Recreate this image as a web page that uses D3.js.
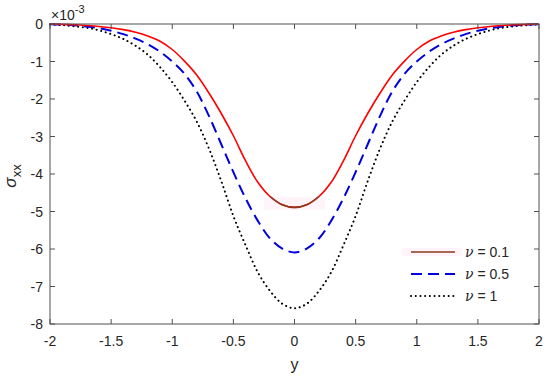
<!DOCTYPE html>
<html>
<head>
<meta charset="utf-8">
<title>sigma_xx</title>
<script src="https://cdn.jsdelivr.net/npm/d3@7"></script>
<style>
  body { margin: 0; background: #fff; }
  svg { font-family: "Liberation Sans", Arial, sans-serif; }
</style>
</head>
<body>
<div id="chart"></div>
<script>
// y positions, step 0.1 from -2 to 2
var ys = [-2, -1.9, -1.8, -1.7, -1.6, -1.5, -1.4, -1.3, -1.2, -1.1, -1, -0.9, -0.8, -0.7, -0.6, -0.5, -0.4, -0.3, -0.2, -0.1,
  0, 0.1, 0.2, 0.3, 0.4, 0.5, 0.6, 0.7, 0.8, 0.9, 1, 1.1, 1.2, 1.3, 1.4, 1.5, 1.6, 1.7, 1.8, 1.9, 2];

// sigma_xx in units of 1e-3
var nu01 = [-0.005, -0.01, -0.02, -0.04, -0.065, -0.1, -0.15, -0.22, -0.32, -0.46, -0.68, -0.99, -1.36, -1.84, -2.38, -2.98, -3.65, -4.22, -4.6, -4.82,
  -4.89, -4.82, -4.6, -4.22, -3.65, -2.98, -2.38, -1.84, -1.36, -0.99, -0.68, -0.46, -0.32, -0.22, -0.15, -0.1, -0.065, -0.04, -0.02, -0.01, -0.005];
var nu05 = [-0.005, -0.015, -0.035, -0.065, -0.11, -0.18, -0.27, -0.39, -0.54, -0.74, -1.0, -1.33, -1.8, -2.45, -3.2, -3.95, -4.65, -5.25, -5.72, -5.99,
  -6.09, -5.99, -5.72, -5.25, -4.65, -3.95, -3.2, -2.45, -1.8, -1.33, -1.0, -0.74, -0.54, -0.39, -0.27, -0.18, -0.11, -0.065, -0.035, -0.015, -0.005];
var nu1 = [-0.01, -0.03, -0.06, -0.1, -0.17, -0.27, -0.4, -0.58, -0.82, -1.15, -1.55, -2.04, -2.6, -3.32, -4.18, -5.12, -5.9, -6.62, -7.12, -7.46,
  -7.58, -7.46, -7.12, -6.62, -5.9, -5.12, -4.18, -3.32, -2.6, -2.04, -1.55, -1.15, -0.82, -0.58, -0.4, -0.27, -0.17, -0.1, -0.06, -0.03, -0.01];

var xTicks = [-2, -1.5, -1, -0.5, 0, 0.5, 1, 1.5, 2];
var yTicks = [0, -1, -2, -3, -4, -5, -6, -7, -8];
var legendLabels = ["0.1", "0.5", "1"];

var W = 550, H = 379;
var margin = {left: 50, right: 11, top: 24, bottom: 55};
var iw = W - margin.left - margin.right, ih = H - margin.top - margin.bottom;
var axisColor = "#505050", textColor = "#262626";

var svg = d3.select("#chart").append("svg").attr("width", W).attr("height", H);
var g = svg.append("g").attr("transform", "translate(" + margin.left + "," + margin.top + ")");

var x = d3.scaleLinear().domain([-2, 2]).range([0, iw]);
var y = d3.scaleLinear().domain([-8, 0]).range([ih, 0]);

function pts(vals) { return ys.map(function (d, i) { return [d, vals[i]]; }); }
var line = d3.line().x(function (d) { return x(d[0]); }).y(function (d) { return y(d[1]); }).curve(d3.curveCatmullRom);

// faint pink halo seen around the minimum of the red curve
g.append("rect").attr("x", x(-0.25)).attr("y", y(-4.62)).attr("width", x(0.25) - x(-0.25)).attr("height", y(-4.95) - y(-4.62))
  .attr("fill", "#fef4fa");

var series = [
  {vals: nu1, color: "#000", width: 2, dash: "0.1,4.6", cap: "round"},
  {vals: nu05, color: "#0000e0", width: 2, dash: "11,6", cap: "butt"},
  {vals: nu01, color: "#ff0000", width: 1.6, dash: null, cap: "butt"}
];
series.forEach(function (s) {
  g.append("path").datum(pts(s.vals)).attr("d", line)
    .attr("fill", "none").attr("stroke", s.color).attr("stroke-width", s.width)
    .attr("stroke-dasharray", s.dash).attr("stroke-linecap", s.cap);
});
// brownish segment near the red minimum
g.append("path").datum(pts(nu01).filter(function (d) { return Math.abs(d[0]) <= 0.2; })).attr("d", line)
  .attr("fill", "none").attr("stroke", "#8a3b1c").attr("stroke-width", 1.6);

// axes box and ticks
g.append("rect").attr("width", iw).attr("height", ih).attr("fill", "none").attr("stroke", axisColor).attr("stroke-width", 1);
var tl = 5;
xTicks.forEach(function (t) {
  g.append("line").attr("x1", x(t)).attr("x2", x(t)).attr("y1", ih).attr("y2", ih - tl).attr("stroke", axisColor);
  g.append("line").attr("x1", x(t)).attr("x2", x(t)).attr("y1", 0).attr("y2", tl).attr("stroke", axisColor);
  g.append("text").attr("x", x(t)).attr("y", ih + 22).attr("text-anchor", "middle")
    .attr("font-size", 14).attr("fill", textColor).text(String(t));
});
yTicks.forEach(function (t) {
  g.append("line").attr("x1", 0).attr("x2", tl).attr("y1", y(t)).attr("y2", y(t)).attr("stroke", axisColor);
  g.append("line").attr("x1", iw).attr("x2", iw - tl).attr("y1", y(t)).attr("y2", y(t)).attr("stroke", axisColor);
  g.append("text").attr("x", -7).attr("y", y(t) + 5).attr("text-anchor", "end")
    .attr("font-size", 14).attr("fill", textColor).text(String(t));
});

// exponent label
var ex = svg.append("text").attr("x", margin.left + 1).attr("y", 20).attr("font-size", 14).attr("fill", textColor);
ex.append("tspan").text("\u00d710");
ex.append("tspan").attr("dy", -7).attr("font-size", 11).text("-3");

// axis labels
svg.append("text").attr("x", margin.left + x(0)).attr("y", 370).attr("text-anchor", "middle")
  .attr("font-size", 16).attr("fill", textColor).text("y");
var yl = svg.append("text").attr("transform", "translate(16," + (margin.top + ih / 2 + 2) + ") rotate(-90)")
  .attr("text-anchor", "middle").attr("font-size", 17).attr("fill", textColor);
yl.append("tspan").attr("font-style", "italic").text("\u03c3");
yl.append("tspan").attr("dy", 5).attr("font-size", 13).text("xx");

// legend
var leg = svg.append("g");
var legY = [252, 274, 296];
var legStyle = [
  {color: "#8a3b1c", width: 1.6, dash: null, cap: "butt"},
  {color: "#0000e0", width: 2, dash: "11,6", cap: "butt"},
  {color: "#000", width: 2, dash: "0.1,4.6", cap: "round"}
];
leg.append("rect").attr("x", 402).attr("y", legY[0] - 4).attr("width", 60).attr("height", 8).attr("fill", "#fef4fa");
legendLabels.forEach(function (lab, i) {
  var s = legStyle[i];
  leg.append("line").attr("x1", 411).attr("x2", 455).attr("y1", legY[i]).attr("y2", legY[i])
    .attr("stroke", s.color).attr("stroke-width", s.width).attr("stroke-dasharray", s.dash).attr("stroke-linecap", s.cap);
  var t = leg.append("text").attr("x", 465).attr("y", legY[i] + 5).attr("font-size", 14).attr("fill", textColor);
  t.append("tspan").attr("font-style", "italic").attr("font-family", "'DejaVu Serif', serif").text("\u03bd");
  t.append("tspan").text(" = " + lab);
});
</script>
</body>
</html>
